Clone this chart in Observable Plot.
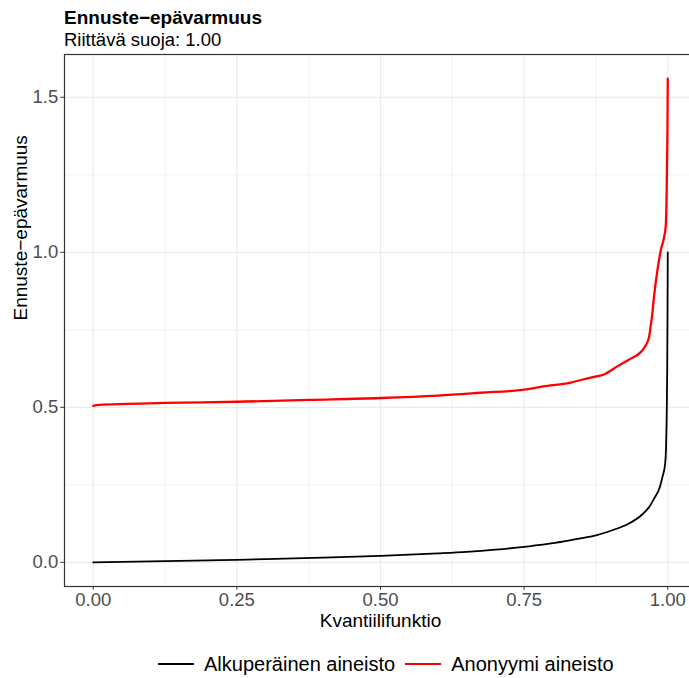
<!DOCTYPE html>
<html><head><meta charset="utf-8">
<script src="https://cdn.jsdelivr.net/npm/d3@7"></script>
<script src="https://cdn.jsdelivr.net/npm/@observablehq/plot@0.6"></script>
<style>
body{margin:0;background:#fff;}
#wrap{position:relative;width:689px;height:678px;overflow:hidden;font-family:"Liberation Sans",Arial,sans-serif;background:#fff;}
#chart{position:absolute;left:0;top:0;width:696px;}
#chart svg{max-width:none !important;}
#title{position:absolute;left:64px;top:7.7px;font-size:19px;line-height:19px;font-weight:bold;color:#000;white-space:nowrap;}
#subtitle{position:absolute;left:64px;top:30.6px;font-size:18.5px;line-height:18.5px;color:#000;white-space:nowrap;}
#legend{position:absolute;left:158px;top:654px;display:flex;align-items:center;font-size:20px;line-height:20px;color:#000;white-space:nowrap;}
.key{display:inline-block;width:36px;height:2px;margin-right:10px;}
.lab{margin-right:10px;}
</style></head><body>
<div id="wrap">
  <div id="chart"></div>
  <div id="title">Ennuste−epävarmuus</div>
  <div id="subtitle">Riittävä suoja: 1.00</div>
  <div id="legend"></div>
</div>
<script>
// Series names and colours
const seriesNames = ["Alkuperäinen aineisto", "Anonyymi aineisto"];
const seriesColors = ["#000000", "#FF0000"];

// Original data: quantile level and uncertainty
const origQ = [0, 0.05, 0.1, 0.2, 0.25, 0.3, 0.4, 0.5, 0.6, 0.65, 0.7, 0.75, 0.8, 0.8136, 0.85, 0.875, 0.906, 0.93, 0.956, 0.9675, 0.976, 0.986, 0.9907, 0.9954, 0.997, 0.998, 0.999, 0.9995, 1.0];
const origV = [0.000, 0.0015, 0.003, 0.0065, 0.008, 0.010, 0.015, 0.021, 0.029, 0.034, 0.041, 0.050, 0.062, 0.0655, 0.078, 0.087, 0.105, 0.1226, 0.155, 0.178, 0.205, 0.241, 0.275, 0.318, 0.372, 0.458, 0.619, 0.78, 1.0];

// Anonymised data
const anonQ = [0, 0.01, 0.125, 0.25, 0.375, 0.5, 0.6, 0.674, 0.75, 0.779, 0.831, 0.866, 0.889, 0.912, 0.9355, 0.953, 0.9617, 0.9675, 0.970, 0.973, 0.976, 0.982, 0.9878, 0.9936, 0.9965, 0.998, 0.9988, 0.9995, 1.0];
const anonV = [0.505, 0.508, 0.514, 0.518, 0.524, 0.530, 0.538, 0.547, 0.557, 0.566, 0.580, 0.596, 0.606, 0.632, 0.657, 0.678, 0.700, 0.727, 0.759, 0.800, 0.856, 0.942, 1.006, 1.049, 1.085, 1.189, 1.297, 1.404, 1.560];

// Ticks
const xMajor = [0, 0.25, 0.5, 0.75, 1.0];
const xMinor = [0.125, 0.375, 0.625, 0.875];
const yMajor = [0, 0.5, 1.0, 1.5];
const yMinor = [0.25, 0.75, 1.25];

const xTitle = "Kvantiilifunktio";
const yTitle = "Ennuste−epävarmuus";

const orig = origQ.map((q, i) => ({q, v: origV[i]}));
const anon = anonQ.map((q, i) => ({q, v: anonV[i]}));

// ggplot-like expansion (5%)
const allV = origV.concat(anonV);
const vMin = d3.min(allV), vMax = d3.max(allV);
const vPad = (vMax - vMin) * 0.05;
const qPad = 0.05;

const font = '"Liberation Sans", Arial, sans-serif';

const chart = Plot.plot({
  width: 696,
  height: 678,
  marginTop: 54,
  marginBottom: 92,
  marginLeft: 64,
  marginRight: 0,
  x: {domain: [0 - qPad, 1 + qPad]},
  y: {domain: [vMin - vPad, vMax + vPad]},
  style: {fontFamily: font, background: "white", overflow: "visible", maxWidth: "none"},
  marks: [
    Plot.ruleX(xMinor, {stroke: "#EBEBEB", strokeWidth: 0.7}),
    Plot.ruleY(yMinor, {stroke: "#EBEBEB", strokeWidth: 0.7}),
    Plot.ruleX(xMajor, {stroke: "#EBEBEB", strokeWidth: 1.2}),
    Plot.ruleY(yMajor, {stroke: "#EBEBEB", strokeWidth: 1.2}),
    Plot.line(orig, {x: "q", y: "v", stroke: seriesColors[0], strokeWidth: 1.8, curve: "monotone-x"}),
    Plot.line(anon, {x: "q", y: "v", stroke: seriesColors[1], strokeWidth: 2.3, curve: "monotone-x"}),
    Plot.frame({stroke: "#333333", strokeWidth: 1.2}),
    Plot.axisX({ticks: xMajor, tickFormat: d3.format(".2f"), tickSize: 3.7, tickPadding: 2.5, fontSize: 18.5, fill: "#4D4D4D", stroke: "#333333", label: null}),
    Plot.axisY({ticks: yMajor, tickFormat: d3.format(".1f"), tickSize: 3.7, tickPadding: 2.5, fontSize: 18.5, fill: "#4D4D4D", stroke: "#333333", label: null}),
    Plot.text([xTitle], {x: [0.5], frameAnchor: "bottom", text: d => d, dy: 34, fontSize: 19, fill: "#000", lineAnchor: "middle"}),
    Plot.text([yTitle], {frameAnchor: "left", text: d => d, rotate: -90, dx: -44, fontSize: 19, fill: "#000", lineAnchor: "middle"})
  ]
});
document.getElementById("chart").appendChild(chart);

const legend = document.getElementById("legend");
seriesNames.forEach((name, i) => {
  const k = document.createElement("span");
  k.className = "key";
  k.style.background = seriesColors[i];
  legend.appendChild(k);
  const t = document.createElement("span");
  t.className = "lab";
  t.textContent = name;
  legend.appendChild(t);
});
</script>
</body></html>
